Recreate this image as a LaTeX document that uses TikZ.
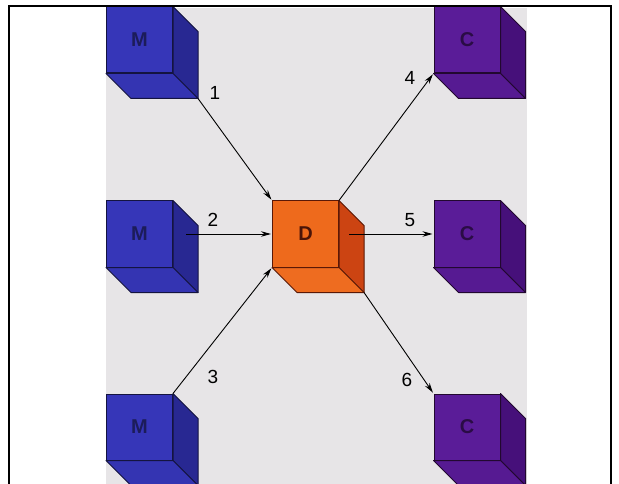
\documentclass[tikz,border=0pt]{standalone}
\usepackage{fontspec}
\setmainfont{Liberation Sans}
\usetikzlibrary{calc,arrows.meta}
\definecolor{pagegray}{HTML}{E7E5E7}
\definecolor{mfront}{HTML}{3636B8}
\definecolor{mside}{HTML}{282892}
\definecolor{mbottom}{HTML}{3434B2}
\definecolor{medge}{HTML}{141440}
\definecolor{mtext}{HTML}{1C1C5A}
\definecolor{cfront}{HTML}{5A1C98}
\definecolor{cside}{HTML}{46107A}
\definecolor{cbottom}{HTML}{561A92}
\definecolor{cedge}{HTML}{220830}
\definecolor{ctext}{HTML}{2A0C45}
\definecolor{dfront}{HTML}{EE6A1C}
\definecolor{dside}{HTML}{CC4412}
\definecolor{dbottom}{HTML}{EE6C20}
\definecolor{dedge}{HTML}{5A1806}
\definecolor{dtext}{HTML}{4A1408}
\newcommand\cubefaces[4]{%
  \coordinate (#1b) at ($(#1.south east)+(25,25)$);
  \filldraw[fill=#2,draw=#4,line width=1pt,line join=round]
    (#1.north east) -- ($(#1.north east)+(25,25)$) -- (#1b) -- (#1.south east) -- cycle;
  \filldraw[fill=#3,draw=#4,line width=1pt,line join=round]
    (#1.south west) -- ($(#1.south west)+(25,25)$) -- (#1b) -- (#1.south east) -- cycle;
}
\begin{document}
\begin{tikzpicture}[x=1pt,y=-1pt,
  front/.style={draw,line width=1pt,minimum width=66pt,minimum height=66pt,inner sep=0pt,
    font=\fontsize{20}{20}\selectfont\bfseries},
  mcube/.style={front,fill=mfront,draw=medge,text=mtext},
  ccube/.style={front,fill=cfront,draw=cedge,text=ctext},
  dcube/.style={front,fill=dfront,draw=dedge,text=dtext},
  arr/.style={-{Stealth[length=10pt,width=5.5pt]},line width=0.9pt,shorten >=1pt},
  num/.style={font=\fontsize{19}{19}\selectfont,inner sep=0pt}]
\useasboundingbox (0,0) rectangle (619,484);
\clip (0,0) rectangle (619,484);
\fill[pagegray] (106,8) rectangle (527,484);
% cubes
\node[mcube] (m1) at (139.5,40) {M};
\cubefaces{m1}{mside}{mbottom}{medge}
\node[mcube] (m2) at (139.5,234) {M};
\cubefaces{m2}{mside}{mbottom}{medge}
\node[mcube] (m3) at (139.5,427) {M};
\cubefaces{m3}{mside}{mbottom}{medge}
\node[dcube] (d) at (305.5,234) {D};
\cubefaces{d}{dside}{dbottom}{dedge}
\node[ccube] (c1) at (467,40) {C};
\cubefaces{c1}{cside}{cbottom}{cedge}
\node[ccube] (c2) at (467,234) {C};
\cubefaces{c2}{cside}{cbottom}{cedge}
\node[ccube] (c3) at (467,427) {C};
\cubefaces{c3}{cside}{cbottom}{cedge}
% arrow start points
\coordinate (s2) at ($(m2.east)+(13,0)$);
\coordinate (s5) at ($(d.east)+(10,0)$);
% arrows
\draw[arr] (m1b) -- (d.north west);
\draw[arr] (s2) -- (d.west);
\draw[arr] (m3.north east) -- (d.south west);
\draw[arr] (d.north east) -- (c1.south west);
\draw[arr] (s5) -- (c2.west);
\draw[arr] (db) -- (c3.north west);
% labels
\node[num] (n1) at (215,93) {1};
\node[num] (n2) at (213,220) {2};
\node[num] (n3) at (213,377) {3};
\node[num] (n4) at (410,78) {4};
\node[num] (n5) at (410,220) {5};
\node[num] (n6) at (407,380) {6};
% frame
\draw[line width=2pt] (9,490) -- (9,6) -- (611,6) -- (611,490);
\end{tikzpicture}
\end{document}
